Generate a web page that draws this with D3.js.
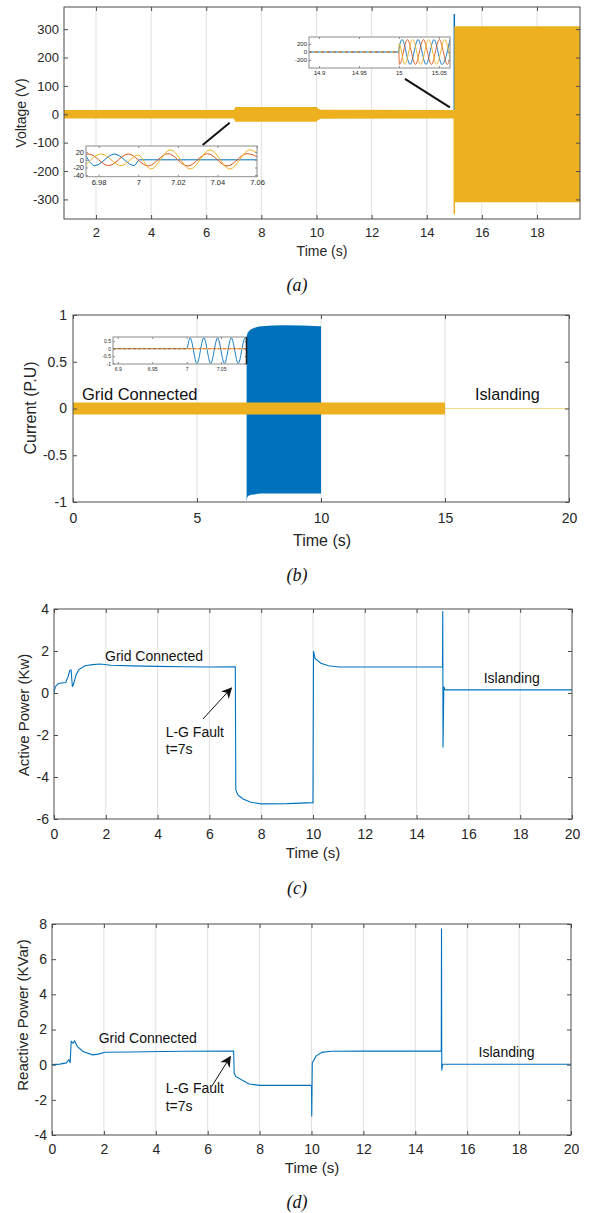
<!DOCTYPE html>
<html lang="en">
<head>
<meta charset="UTF-8">
<title>Voltage, current and power under L-G fault and islanding</title>
<script src="https://d3js.org/d3.v7.min.js"></script>
<style>
    body { margin: 0; background: white; }
    .caption { font-family: 'Liberation Serif', 'Times New Roman', serif; font-style: italic; }
</style>
</head>
<body>
<svg id="fig" width="590" height="1213" style="background:white;"></svg>

<script>
// ---- data ------------------------------------------------------------------

// (a) voltage: half width of the 50 Hz band (V) over time
const voltTime = [0.84, 7.0, 7.06, 10.0, 10.05, 10.15, 15.0, 15.0, 19.56];
const voltAmp  = [15, 15, 26, 26, 21, 16, 15, 310, 310];
const voltSpikeUp   = [[15, 0], [15, 353]];
const voltSpikeDown = [[15, 0], [15, -352]];
const voltTicksX = [2, 4, 6, 8, 10, 12, 14, 16, 18];
const voltTicksY = [-300, -200, -100, 0, 100, 200, 300];

// (a) zoom at islanding, t = 15 s (extrema of each phase)
const islPre = [[14.8875, 0], [15, 0]];
const islA = [[15, 0], [15.0003, 96], [15.004, 310], [15.014, -310], [15.024, 310], [15.034, -310], [15.044, 310], [15.054, -310], [15.064, 310]];
const islB = [[15, 0], [15.0007, -310], [15.0107, 310], [15.0207, -310], [15.0307, 310], [15.0407, -310], [15.0507, 310], [15.0607, -310], [15.064, -157]];
const islC = [[15, 0], [15.0003, 205], [15.0073, -310], [15.0173, 310], [15.0273, -310], [15.0373, 310], [15.0473, -310], [15.0573, 310], [15.064, -157]];
const islTicksX = [14.9, 14.95, 15, 15.05];
const islTicksY = [-200, 0, 200];

// (a) zoom at the L-G fault, t = 7 s
const lgA = [[6.9736, 10], [6.978, -15], [6.988, 15], [6.998, -15], [7.0005, 0], [7.06, 0]];
const lgB = [[6.9736, 14], [6.975, 15], [6.985, -15], [6.995, 15], [7.005, -16], [7.015, 16], [7.025, -16], [7.035, 16], [7.045, -16], [7.055, 16], [7.06, 8]];
const lgC = [[6.9736, -13], [6.9813, 15], [6.9913, -15], [7.0, 12], [7.0063, -24], [7.0163, 26], [7.0263, -24], [7.0363, 26], [7.0463, -24], [7.0563, 26], [7.06, 18]];
const lgTicksX = [6.98, 7, 7.02, 7.04, 7.06];
const lgTicksY = [-40, -20, 0, 20];

// (b) current (P.U)
const currTime = [0, 15, 15, 20];
const currAmp  = [0.065, 0.065, 0.004, 0.004];
const faultTime = [7.0, 7.03, 7.1, 7.3, 7.6, 8.5, 10.0];
const faultTop  = [0.76, 0.8, 0.83, 0.86, 0.88, 0.89, 0.88];
const faultBot  = [-1, -0.95, -0.93, -0.92, -0.91, -0.91, -0.91];
const currTicksX = [0, 5, 10, 15, 20];
const currTicksY = [-1, -0.5, 0, 0.5, 1];

// (b) zoom at t = 7 s
const czA = [[6.893, 0], [7.0, 0], [7.005, 0.72], [7.015, -0.98], [7.025, 0.72], [7.035, -0.98], [7.045, 0.72], [7.055, -0.98], [7.065, 0.72], [7.075, -0.98], [7.085, 0.72], [7.087, 0.66]];
const czB = [[6.893, 0], [7.087, 0]];
const czTicksX = [6.9, 6.95, 7, 7.05];
const czTicksY = [-1, -0.5, 0, 0.5];

// (c) active power (kW)
const activeTime = [0, 0.05, 0.17, 0.3, 0.45, 0.55, 0.61, 0.66, 0.71, 0.76,
                    0.85, 0.95, 1.19, 1.5, 1.77, 2.2, 3, 4, 5, 6,
                    7.0, 7.02, 7.1, 7.3, 7.6, 8.0, 9.0, 10.0, 10.02, 10.08,
                    10.3, 10.6, 11, 12, 15.0, 15.01, 15.02, 15.05, 15.1, 20];
const activeP    = [0, 0.3, 0.45, 0.48, 0.5, 0.8, 1.08, 1.1, 0.3, 0.45,
                    0.85, 1.1, 1.3, 1.35, 1.38, 1.32, 1.29, 1.27, 1.25, 1.24,
                    1.25, -4.6, -4.85, -5.05, -5.2, -5.28, -5.27, -5.22, 2.0, 1.65,
                    1.42, 1.3, 1.24, 1.24, 1.25, 3.9, -2.6, 0.3, 0.15, 0.15];
const activeTicksY = [-6, -4, -2, 0, 2, 4];

// (d) reactive power (kVar)
const reactTime = [0, 0.3, 0.55, 0.65, 0.7, 0.74, 0.81, 0.87, 0.98, 1.2,
                   1.56, 1.78, 2.04, 3, 5, 7.0, 7.02, 7.08, 7.3, 7.6,
                   8.0, 10.0, 10.01, 10.03, 10.18, 10.4, 10.76, 12, 15.0, 15.01,
                   15.02, 15.05, 20];
const reactQ    = [0, 0.03, 0.1, 0.28, 0.1, 1.32, 1.22, 1.36, 1.03, 0.75,
                   0.56, 0.6, 0.71, 0.72, 0.76, 0.77, -0.48, -0.67, -0.86, -1.1,
                   -1.18, -1.18, -2.95, 0.1, 0.5, 0.7, 0.76, 0.77, 0.77, 7.75,
                   -0.33, 0.02, 0.02];
const reactTicksY = [-4, -2, 0, 2, 4, 6, 8];

const powerTicksX = [0, 2, 4, 6, 8, 10, 12, 14, 16, 18, 20];

// ---- styling -----------------------------------------------------------------
const FONT = "'Liberation Sans', Arial, Helvetica, sans-serif";
const BLUE = "#0072BD", ORANGE = "#D95319", YELLOW = "#EDB120";
const AXIS = "#4d4d4d", TEXT = "#262626", GRID = "#e0e0e0";

const svg = d3.select("svg#fig");
let clipCount = 0;

// one MATLAB style axes box: ticks inside on all four sides, vertical grid
function axesBox(cfg) {
    const x = d3.scaleLinear().domain(cfg.xDomain).range([cfg.left, cfg.right]);
    const y = d3.scaleLinear().domain(cfg.yDomain).range([cfg.bottom, cfg.top]);
    const g = svg.append("g");
    const id = "clip" + (clipCount++);
    g.append("clipPath").attr("id", id).append("rect")
        .attr("x", cfg.left).attr("y", cfg.top)
        .attr("width", cfg.right - cfg.left).attr("height", cfg.bottom - cfg.top);
    g.append("rect")
        .attr("x", cfg.left).attr("y", cfg.top)
        .attr("width", cfg.right - cfg.left).attr("height", cfg.bottom - cfg.top)
        .attr("fill", "white");
    if (cfg.grid) {
        g.append("g").selectAll("line")
            .data(cfg.xTicks.filter(t => x(t) > cfg.left + 1 && x(t) < cfg.right - 1))
            .join("line")
            .attr("x1", d => x(d)).attr("x2", d => x(d))
            .attr("y1", cfg.top).attr("y2", cfg.bottom)
            .attr("stroke", GRID).attr("stroke-width", 1);
    }
    const plot = g.append("g").attr("clip-path", `url(#${id})`);
    const tl = cfg.tickLen || 4;
    const col = cfg.axisColor || AXIS;
    const fmt = d => String(d);

    const finish = function() {
        const ax = g.append("g");
        ax.append("g").attr("transform", `translate(0,${cfg.bottom})`)
            .call(d3.axisBottom(x).tickValues(cfg.xTicks).tickSize(-tl).tickPadding(cfg.xPad).tickFormat(fmt));
        ax.append("g").attr("transform", `translate(0,${cfg.top})`)
            .call(d3.axisTop(x).tickValues(cfg.xTicks).tickSize(-tl).tickFormat(""));
        ax.append("g").attr("transform", `translate(${cfg.left},0)`)
            .call(d3.axisLeft(y).tickValues(cfg.yTicks).tickSize(-tl).tickPadding(cfg.yPad).tickFormat(fmt));
        ax.append("g").attr("transform", `translate(${cfg.right},0)`)
            .call(d3.axisRight(y).tickValues(cfg.yTicks).tickSize(-tl).tickFormat(""));
        ax.selectAll(".domain").remove();
        ax.selectAll(".tick line").attr("stroke", col).attr("stroke-width", cfg.tickWidth || 1);
        ax.selectAll(".tick text")
            .attr("font-size", cfg.fs).attr("font-family", FONT).attr("fill", TEXT);
        g.append("rect")
            .attr("x", cfg.left).attr("y", cfg.top)
            .attr("width", cfg.right - cfg.left).attr("height", cfg.bottom - cfg.top)
            .attr("fill", "none").attr("stroke", col).attr("stroke-width", 1);
        return ax;
    };
    return {g, plot, x, y, finish};
}

function xLabel(text, cx, cy, fs) {
    svg.append("text").attr("x", cx).attr("y", cy).attr("dy", "0.35em")
        .attr("text-anchor", "middle").attr("font-family", FONT)
        .attr("font-size", fs).attr("fill", TEXT).text(text);
}
function yLabel(text, cx, cy, fs) {
    svg.append("text").attr("transform", `translate(${cx},${cy}) rotate(-90)`)
        .attr("dy", "0.35em").attr("text-anchor", "middle").attr("font-family", FONT)
        .attr("font-size", fs).attr("fill", TEXT).text(text);
}
function caption(text, cy) {
    svg.append("text").attr("class", "caption").attr("x", 297).attr("y", cy).attr("dy", "0.35em")
        .attr("text-anchor", "middle").attr("font-size", 18).attr("fill", "#111").text(text);
}
function note(p, text, t, v, fs) {
    svg.append("text").attr("x", p.x(t)).attr("y", p.y(v))
        .attr("font-family", FONT).attr("font-size", fs).attr("fill", "#111").text(text);
}

svg.append("defs").append("marker")
    .attr("id", "arrow").attr("viewBox", "0 0 10 10")
    .attr("refX", 9).attr("refY", 5)
    .attr("markerWidth", 11).attr("markerHeight", 11)
    .attr("markerUnits", "userSpaceOnUse")
    .attr("orient", "auto")
    .append("path").attr("d", "M0,0 L10,5 L0,10 L3,5 Z").attr("fill", "#111");

function arrow(p, from, to) {
    svg.append("line")
        .attr("x1", p.x(from[0])).attr("y1", p.y(from[1]))
        .attr("x2", p.x(to[0])).attr("y2", p.y(to[1]))
        .attr("stroke", "#111").attr("stroke-width", 1)
        .attr("marker-end", "url(#arrow)");
}

function curveLine(p, data, curve) {
    return d3.line().x(d => p.x(d[0])).y(d => p.y(d[1])).curve(curve || d3.curveLinear)(data);
}

// ---- (a) voltage ------------------------------------------------------------
const pa = axesBox({left: 64, right: 580, top: 7, bottom: 219,
    xDomain: [0.84, 19.56], yDomain: [-369, 378],
    xTicks: voltTicksX, yTicks: voltTicksY, xPad: 9, yPad: 5, fs: 13, grid: true});

const voltBand = voltTime.map((t, i) => ({t: t, a: voltAmp[i]}));
pa.plot.append("path")
    .attr("d", curveLine(pa, voltSpikeUp))
    .attr("stroke", BLUE).attr("stroke-width", 1.5).attr("fill", "none");
pa.plot.append("path")
    .attr("d", curveLine(pa, voltSpikeDown))
    .attr("stroke", YELLOW).attr("stroke-width", 1.5).attr("fill", "none");
pa.plot.append("path")
    .attr("d", d3.area().x(d => pa.x(d.t)).y0(d => pa.y(-d.a)).y1(d => pa.y(d.a))(voltBand))
    .attr("fill", YELLOW);
pa.finish();

// connector lines from the band to the zoom boxes
pa.g.append("line")
    .attr("x1", pa.x(13.21)).attr("y1", pa.y(125)).attr("x2", pa.x(14.84)).attr("y2", pa.y(24))
    .attr("stroke", "#111").attr("stroke-width", 2);
pa.g.append("line")
    .attr("x1", pa.x(6.85)).attr("y1", pa.y(-30)).attr("x2", pa.x(5.87)).attr("y2", pa.y(-108))
    .attr("stroke", "#111").attr("stroke-width", 2);

// zoom at islanding
const zi = axesBox({left: 309, right: 450, top: 37, bottom: 68,
    xDomain: [14.8875, 15.064], yDomain: [-400, 375],
    xTicks: islTicksX, yTicks: islTicksY, xPad: 3, yPad: 2, fs: 6, tickLen: 2, axisColor: "#8c8c8c"});
zi.plot.append("path").attr("d", curveLine(zi, islPre)).attr("stroke", BLUE).attr("stroke-width", 1.2).attr("fill", "none");
zi.plot.append("path").attr("d", curveLine(zi, islPre)).attr("stroke", ORANGE).attr("stroke-width", 1.2)
    .attr("stroke-dasharray", "3,3").attr("fill", "none");
zi.plot.append("path").attr("d", curveLine(zi, islPre)).attr("stroke", YELLOW).attr("stroke-width", 1.2)
    .attr("stroke-dasharray", "2,4").attr("stroke-dashoffset", 1).attr("fill", "none");
[[islA, BLUE], [islB, ORANGE], [islC, YELLOW]].forEach(([d, c]) => {
    zi.plot.append("path").attr("d", curveLine(zi, d, d3.curveMonotoneX))
        .attr("stroke", c).attr("stroke-width", 0.9).attr("fill", "none");
});
zi.finish();

// zoom at fault
const zf = axesBox({left: 86, right: 257, top: 146, bottom: 176.7,
    xDomain: [6.9736, 7.06], yDomain: [-44, 36],
    xTicks: lgTicksX, yTicks: lgTicksY, xPad: 2.5, yPad: 2, fs: 7.5, tickLen: 2, axisColor: "#8c8c8c"});
[[lgA, BLUE], [lgB, ORANGE], [lgC, YELLOW]].forEach(([d, c]) => {
    zf.plot.append("path").attr("d", curveLine(zf, d, d3.curveMonotoneX))
        .attr("stroke", c).attr("stroke-width", 1).attr("fill", "none");
});
zf.finish();

xLabel("Time (s)", 322, 251, 14);
yLabel("Voltage (V)", 21, 113, 14);
caption("(a)", 285);

// ---- (b) current ------------------------------------------------------------
const pb = axesBox({left: 73, right: 569, top: 315, bottom: 502,
    xDomain: [0, 20], yDomain: [-1, 1],
    xTicks: currTicksX, yTicks: currTicksY, xPad: 11, yPad: 6, fs: 14, grid: true});

const faultBand = faultTime.map((t, i) => ({t: t, hi: faultTop[i], lo: faultBot[i]}));
pb.plot.append("path")
    .attr("d", d3.area().x(d => pb.x(d.t)).y0(d => pb.y(d.lo)).y1(d => pb.y(d.hi))
        .curve(d3.curveMonotoneX)(faultBand))
    .attr("fill", BLUE);
const currBand = currTime.map((t, i) => ({t: t, a: currAmp[i]}));
pb.plot.append("path")
    .attr("d", d3.area().x(d => pb.x(d.t)).y0(d => pb.y(-d.a)).y1(d => pb.y(d.a))(currBand))
    .attr("fill", YELLOW);
pb.finish();

const zc = axesBox({left: 113, right: 246.5, top: 337, bottom: 364,
    xDomain: [6.893, 7.087], yDomain: [-1.02, 0.78],
    xTicks: czTicksX, yTicks: czTicksY, xPad: 3, yPad: 2, fs: 5, tickLen: 2, axisColor: "#8c8c8c"});
zc.plot.append("path").attr("d", curveLine(zc, czA, d3.curveMonotoneX))
    .attr("stroke", BLUE).attr("stroke-width", 0.9).attr("fill", "none");
zc.plot.append("path").attr("d", curveLine(zc, czB))
    .attr("stroke", ORANGE).attr("stroke-width", 1.1).attr("stroke-dasharray", "3,2").attr("fill", "none");
zc.plot.append("path").attr("d", curveLine(zc, czB))
    .attr("stroke", YELLOW).attr("stroke-width", 1.1).attr("stroke-dasharray", "2,3").attr("stroke-dashoffset", 2).attr("fill", "none");
zc.finish();
zc.g.append("line").attr("x1", 246.5).attr("x2", 246.5).attr("y1", 337).attr("y2", 364)
    .attr("stroke", "#222").attr("stroke-width", 1.6);

note(pb, "Grid Connected", 0.36, 0.09, 16.5);
note(pb, "Islanding", 16.21, 0.09, 16.2);
xLabel("Time (s)", 322, 540, 16);
yLabel("Current (P.U)", 30, 408, 16);
caption("(b)", 575);

// ---- (c) active power -------------------------------------------------------
const pc = axesBox({left: 54, right: 572, top: 609, bottom: 819,
    xDomain: [0, 20], yDomain: [-6, 4],
    xTicks: powerTicksX, yTicks: activeTicksY, xPad: 10, yPad: 5, fs: 14, grid: true});
pc.plot.append("path")
    .attr("d", curveLine(pc, d3.zip(activeTime, activeP)))
    .attr("stroke", BLUE).attr("stroke-width", 1.1).attr("fill", "none");
pc.finish();
note(pc, "Grid Connected", 1.97, 1.52, 14);
note(pc, "Islanding", 16.59, 0.48, 14);
note(pc, "L-G Fault", 4.31, -2.1, 14);
note(pc, "t=7s", 4.31, -2.9, 14);
arrow(pc, [5.75, -1.24], [6.85, 0.24]);
xLabel("Time (s)", 313, 853, 15);
yLabel("Active Power (Kw)", 24, 715, 15);
caption("(c)", 888);

// ---- (d) reactive power -----------------------------------------------------
const pd = axesBox({left: 52, right: 571, top: 924, bottom: 1135,
    xDomain: [0, 20], yDomain: [-4, 8],
    xTicks: powerTicksX, yTicks: reactTicksY, xPad: 9, yPad: 5, fs: 14, grid: true});
pd.plot.append("path")
    .attr("d", curveLine(pd, d3.zip(reactTime, reactQ)))
    .attr("stroke", BLUE).attr("stroke-width", 1.1).attr("fill", "none");
pd.finish();
note(pd, "Grid Connected", 1.80, 1.23, 14);
note(pd, "Islanding", 16.44, 0.44, 14);
note(pd, "L-G Fault", 4.38, -1.61, 14);
note(pd, "t=7s", 4.38, -2.63, 14);
arrow(pd, [6.15, -1.25], [6.87, 0.45]);
xLabel("Time (s)", 312, 1168, 15);
yLabel("Reactive Power (KVar)", 23, 1015, 15);
caption("(d)", 1202);
</script>
</body>
</html>
